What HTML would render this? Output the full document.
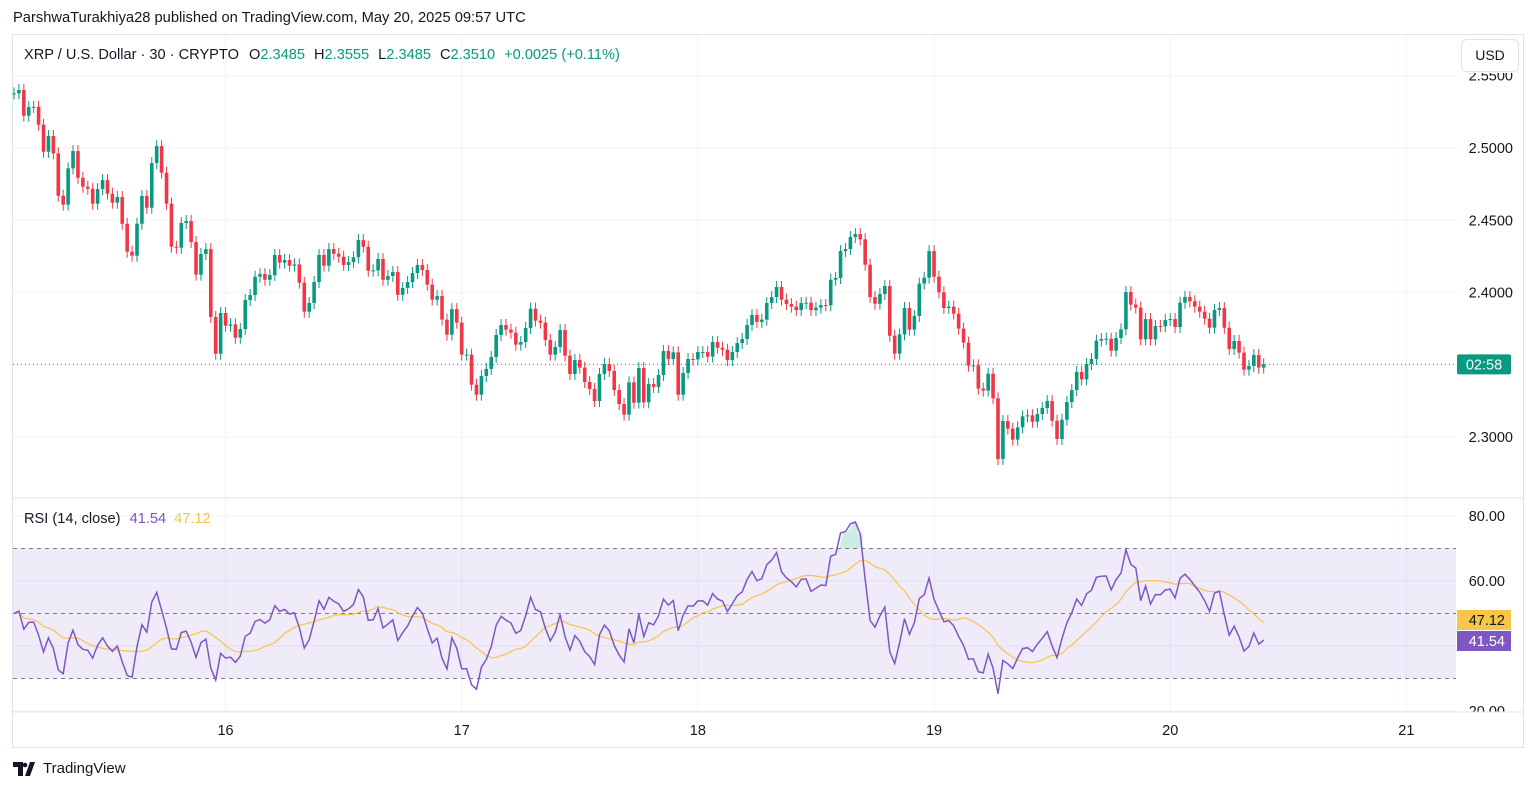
<!DOCTYPE html>
<html><head><meta charset="utf-8">
<style>
html,body{margin:0;padding:0;background:#fff;width:1536px;height:792px;overflow:hidden;font-family:"Liberation Sans",sans-serif;}
#hdr{position:absolute;left:13px;top:10px;font-size:14.7px;color:#131722;}
#frame{position:absolute;left:12px;top:34px;width:1510px;height:712px;border:1px solid #e0e3eb;}
svg{position:absolute;left:0;top:0;}
#usd{position:absolute;left:1461px;top:39px;width:56px;height:31px;border:1px solid #e0e3eb;border-radius:6px;background:#fff;font-size:14px;color:#131722;text-align:center;line-height:31px;box-shadow:0 1px 2px rgba(0,0,0,.05);}
#logo{position:absolute;left:13px;top:760px;font-size:15px;color:#131722;display:flex;align-items:center;gap:4px;}
</style></head><body>
<div id="hdr">ParshwaTurakhiya28 published on TradingView.com, May 20, 2025 09:57 UTC</div>
<div id="frame"></div>
<svg id="chart" width="1536" height="792"></svg>
<div id="usd">USD</div>
<div id="logo"><svg style="position:static" width="26" height="14" viewBox="0 0 26 14"><path d="M0 0h10v14H5V5H0z M12 14l5-14h5l-5 14z" fill="#131722"/><circle cx="12" cy="3" r="2.3" fill="#131722"/></svg><span>TradingView</span></div>
<script>
const closes=[2.5378,2.5401,2.5223,2.5283,2.5285,2.5161,2.4974,2.5083,2.4963,2.4670,2.4608,2.4859,2.4979,2.4794,2.4732,2.4718,2.4615,2.4716,2.4778,2.4684,2.4622,2.4661,2.4476,2.4283,2.4255,2.4476,2.4668,2.4587,2.4896,2.5013,
2.4829,2.4615,2.4317,2.4310,2.4481,2.4495,2.4350,2.4124,2.4267,2.4301,2.3831,2.3577,2.3859,2.3771,2.3780,2.3688,2.3748,2.3949,2.3983,2.4110,
2.4128,2.4089,2.4121,2.4260,2.4207,2.4225,2.4186,2.4195,2.4068,2.3868,2.3928,2.4073,2.4260,2.4186,2.4301,2.4269,2.4248,2.4191,2.4211,2.4244,
2.4363,2.4317,2.4151,2.4154,2.4232,2.4089,2.4115,2.4142,2.3985,2.4032,2.4073,2.4135,2.4191,2.4156,2.4055,2.3951,2.3976,2.3813,2.3709,2.3886,
2.3792,2.3571,2.3571,2.3363,2.3294,2.3423,2.3472,2.3554,2.3707,2.3776,2.3744,2.3723,2.3640,2.3658,2.3755,2.3889,2.3806,2.3792,2.3672,2.3571,
2.3624,2.3741,2.3564,2.3437,2.3534,2.3481,2.3382,2.3333,2.3250,2.3437,2.3506,2.3458,2.3326,2.3229,2.3156,2.3379,2.3239,2.3478,2.3241,2.3368,
2.3347,2.3430,2.3596,2.3541,2.3587,2.3294,2.3444,2.3541,2.3538,2.3589,2.3589,2.3557,2.3658,2.3619,2.3605,2.3534,2.3589,2.3651,2.3679,2.3776,
2.3845,2.3797,2.3813,2.3928,2.3969,2.4039,2.3951,2.3921,2.3903,2.3879,2.3928,2.3930,2.3879,2.3896,2.3914,2.3912,2.4089,2.4101,2.4287,2.4301,
2.4384,2.4405,2.4368,2.4193,2.3969,2.3923,2.3990,2.4045,2.3702,2.3578,2.3711,2.3893,2.3744,2.3838,2.4062,2.4103,2.4287,2.4110,2.4002,2.3893,
2.3903,2.3854,2.3751,2.3654,2.3495,2.3497,2.3336,2.3322,2.3439,2.3269,2.2849,2.3112,2.3059,2.2983,2.3068,2.3144,2.3151,2.3107,2.3160,2.3202,
2.3250,2.3114,2.2988,2.3121,2.3243,2.3326,2.3451,2.3400,2.3506,2.3541,2.3668,2.3679,2.3681,2.3598,2.3686,2.3746,2.4004,2.3917,2.3896,2.3677,
2.3817,2.3677,2.3769,2.3767,2.3810,2.3817,2.3762,2.3930,2.3970,2.3940,2.3903,2.3868,2.3820,2.3757,2.3880,2.3893,2.3757,2.3610,2.3665,2.3585,
2.3467,2.3492,2.3568,2.3481,2.3504];
const firstOpen=2.5378;
const priceTicks=["2.5500","2.5000","2.4500","2.4000","2.3000"];
const rsiTicks=["80.00","60.00","20.00"];
const dayLabels=["16","17","18","19","20","21"];
const dayIndex=[43,91,139,187,235,283];

const NS="http://www.w3.org/2000/svg";
const svg=document.getElementById('chart');
function el(t,a,p){const e=document.createElementNS(NS,t);for(const k in a)e.setAttribute(k,a[k]);(p||svg).appendChild(e);return e;}
const X0=14,DX=4.92,PLOT_R=1456;
const xOf=i=>X0+i*DX;
const yP=p=>148+(2.5-p)*1446;
const yR=v=>516+(80-v)*3.25;
[2.55,2.5,2.45,2.4,2.35,2.3].forEach(p=>{const g=el('line',{x1:13,x2:PLOT_R,y1:yP(p),y2:yP(p),stroke:'#f0f3fa'});});
[80,60,40,20].forEach(v=>{const g=el('line',{x1:13,x2:PLOT_R,y1:yR(v),y2:yR(v),stroke:'#f0f3fa'});});
dayIndex.forEach((d,k)=>{const x=xOf(d);const g=el('line',{x1:x,x2:x,y1:35,y2:712,stroke:'#f0f3fa'});
const t=el('text',{x:x,y:735,'text-anchor':'middle','font-size':14.5,fill:'#131722'});t.textContent=dayLabels[k];});
el('line',{x1:13,x2:1523,y1:498,y2:498,stroke:'#e0e3eb'});
[2.55,2.5,2.45,2.4,2.3].forEach((p,k)=>{const t=el('text',{x:1513,y:yP(p)+5,'text-anchor':'end','font-size':14.5,fill:'#131722'});t.textContent=priceTicks[k];});
let prev=firstOpen;
closes.forEach((c,i)=>{const o=prev;prev=c;const up=c>=o;const col=up?'#089981':'#f23645';
const x=xOf(i);const top=yP(Math.max(o,c)),bot=yP(Math.min(o,c));
const g=el('g',{});
el('line',{x1:x,x2:x,y1:top-6,y2:bot+6,stroke:col,'stroke-width':1},g);
el('rect',{x:x-1.8,y:top,width:3.6,height:Math.max(1,bot-top),fill:col},g);});
const lp=closes[closes.length-1];
const pl=el('line',{x1:13,x2:PLOT_R,y1:yP(lp),y2:yP(lp),stroke:'#089981','stroke-dasharray':'1 3'});
const pb=el('rect',{x:1457,y:yP(lp)-10,width:54,height:20,fill:'#089981',rx:2});
const pt=el('text',{x:1484,y:yP(lp)+5,'text-anchor':'middle','font-size':14.5,fill:'#fff'});pt.textContent='02:58';
const lg=el('text',{x:24,y:59,'font-size':14.6,fill:'#131722'});
lg.innerHTML='XRP / U.S. Dollar · 30 · CRYPTO  <tspan dx="6">O</tspan><tspan fill="#089981">2.3485</tspan><tspan dx="9">H</tspan><tspan fill="#089981">2.3555</tspan><tspan dx="9">L</tspan><tspan fill="#089981">2.3485</tspan><tspan dx="9">C</tspan><tspan fill="#089981">2.3510</tspan><tspan dx="9" fill="#089981">+0.0025 (+0.11%)</tspan>';
// RSI (Wilder, neutral seed)
const rsi=[];const N=14;let s0=0;
for(let i=1;i<=N;i++){s0+=Math.abs(closes[i]-closes[i-1]);}
let ag=s0/N/2,al=s0/N/2;
let pc=firstOpen;
closes.forEach((c,i)=>{const d=c-pc;pc=c;ag=(ag*(N-1)+Math.max(d,0))/N;al=(al*(N-1)+Math.max(-d,0))/N;rsi.push(al===0?100:100-100/(1+ag/al));});
const ma=rsi.map((v,i)=>{const s=rsi.slice(Math.max(0,i-13),i+1);return s.reduce((a,b)=>a+b,0)/s.length;});
const band=el('rect',{x:13,y:yR(70),width:PLOT_R-13,height:yR(30)-yR(70),fill:'#7e57c2','fill-opacity':0.12});
[70,50,30].forEach(v=>{const l=el('line',{x1:13,x2:PLOT_R,y1:yR(v),y2:yR(v),stroke:'#787b86','stroke-dasharray':'4 4'});});
let ob='';rsi.forEach((v,i)=>{if(v>70){ob+=`M${xOf(i)-DX/2},${yR(70)}L${xOf(i)-DX/2},${yR(Math.min(v,rsi[i-1]||v))}L${xOf(i)+DX/2},${yR(v)}L${xOf(i)+DX/2},${yR(70)}Z`;}});
el('path',{d:ob,fill:'#089981','fill-opacity':0.2});
const mp=el('path',{d:ma.map((v,i)=>(i?'L':'M')+xOf(i).toFixed(1)+','+yR(v).toFixed(1)).join(''),fill:'none',stroke:'#f7c548','stroke-width':1.2});
const rp=el('path',{d:rsi.map((v,i)=>(i?'L':'M')+xOf(i).toFixed(1)+','+yR(v).toFixed(1)).join(''),fill:'none',stroke:'#7e57c2','stroke-width':1.5});
[80,60,20].forEach((v,k)=>{const t=el('text',{x:1505,y:yR(v)+5,'text-anchor':'end','font-size':14.5,fill:'#131722'});t.textContent=rsiTicks[k];});
// clip 20.00 label at pane bottom
el('rect',{x:1456,y:712,width:66,height:34,fill:'#fff'});
el('line',{x1:13,x2:1523,y1:712,y2:712,stroke:'#e0e3eb'});
el('rect',{x:1457,y:610,width:54,height:20,fill:'#f7c548'});
const t1=el('text',{x:1505,y:625,'text-anchor':'end','font-size':14.5,fill:'#131722'});t1.textContent='47.12';
el('rect',{x:1457,y:631,width:54,height:20,fill:'#7e57c2'});
const t2=el('text',{x:1505,y:646,'text-anchor':'end','font-size':14.5,fill:'#fff'});t2.textContent='41.54';
const rl=el('text',{x:24,y:523,'font-size':14.6,fill:'#131722'});
rl.innerHTML='RSI (14, close) <tspan dx="5" fill="#7e57c2">41.54</tspan><tspan dx="8" fill="#f7c548">47.12</tspan>';
// white area behind USD button clipping top axis label
el('rect',{x:1456,y:35,width:66,height:38,fill:'#fff'});
</script>
</body></html>
